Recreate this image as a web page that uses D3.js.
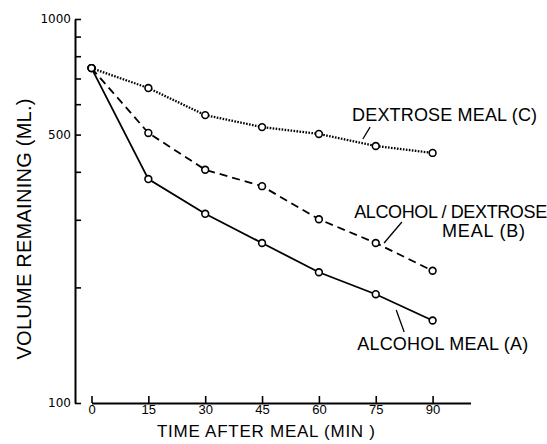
<!DOCTYPE html>
<html>
<head>
<meta charset="utf-8">
<script src="https://cdn.jsdelivr.net/npm/d3@7"></script>
<style>
  body { margin: 0; background: #fff; }
  svg { display: block; }
  text { font-family: "Liberation Sans", Arial, sans-serif; fill: #000; }
</style>
</head>
<body>
<script>
// minutes after the meal
const minutes = [0, 15, 30, 45, 60, 75, 90];
// volume remaining (ml)
const alcoholMeal = [745, 383, 311, 261, 219, 192, 164];
const alcoholDextroseMeal = [745, 505, 405, 367, 301, 261, 221];
const dextroseMeal = [745, 661, 562, 523, 502, 467, 448];

const yTicks = [100, 200, 300, 400, 500, 600, 700, 800, 900, 1000];
const yLabels = [100, 500, 1000];

const width = 547;
const height = 444;

const svg = d3
  .select("body")
  .append("svg")
  .attr("width", width)
  .attr("height", height);

const x = d3.scaleLinear().domain([0, 100]).range([91.5, 470.5]);
const y = d3.scaleLog().domain([100, 1000]).range([403, 19]);

//y axis, ticks point inward
const yAxis = svg
  .append("g")
  .attr("transform", "translate(75,0)")
  .call(
    d3
      .axisLeft(y)
      .tickValues(yTicks)
      .tickFormat((d) => (yLabels.includes(d) ? d : ""))
      .tickSizeInner(-6)
      .tickSizeOuter(0)
      .tickPadding(4)
  );
yAxis.select(".domain").attr("stroke-width", 2);
yAxis.selectAll(".tick line").attr("stroke-width", 1.6);
yAxis
  .selectAll(".tick text")
  .style("font-family", "'DejaVu Sans', sans-serif")
  .style("font-size", "12px");

//x axis
const xAxis = svg
  .append("g")
  .attr("transform", "translate(0,403)")
  .call(
    d3
      .axisBottom(x)
      .tickValues(minutes)
      .tickSizeInner(-7)
      .tickSizeOuter(0)
      .tickPadding(2)
  );
xAxis.select(".domain").attr("stroke-width", 2);
xAxis.selectAll(".tick line").attr("stroke-width", 1.6);
xAxis.selectAll(".tick text").style("font-size", "13px");

//axis titles
svg
  .append("text")
  .attr("x", 266)
  .attr("y", 437)
  .attr("text-anchor", "middle")
  .attr("textLength", 218)
  .style("font-size", "17px")
  .text("TIME AFTER MEAL (MIN )");

svg
  .append("text")
  .attr("transform", "translate(31,229) rotate(-90)")
  .attr("text-anchor", "middle")
  .attr("textLength", 261)
  .style("font-size", "20px")
  .text("VOLUME REMAINING (ML.)");

//series
const series = [
  { values: alcoholMeal, dash: null, w: 1.8 },
  { values: alcoholDextroseMeal, dash: "8,5", w: 1.8 },
  { values: dextroseMeal, dash: "1.6,1.4", w: 2.3 },
];

const line = d3
  .line()
  .x((d, i) => x(minutes[i]))
  .y((d) => y(d));

series.forEach((s) => {
  svg
    .append("path")
    .datum(s.values)
    .attr("d", line)
    .attr("fill", "none")
    .attr("stroke", "#000")
    .attr("stroke-width", s.w)
    .attr("stroke-dasharray", s.dash);
});

series.forEach((s) => {
  svg
    .append("g")
    .selectAll("circle")
    .data(s.values)
    .enter()
    .append("circle")
    .attr("cx", (d, i) => x(minutes[i]))
    .attr("cy", (d) => y(d))
    .attr("r", 3.4)
    .attr("fill", "#fff")
    .attr("stroke", "#000")
    .attr("stroke-width", 1.6);
});

//labels with leader lines, placed in data units
const addLabel = (t, v, txt, len) => {
  svg
    .append("text")
    .attr("x", x(t))
    .attr("y", y(v))
    .attr("textLength", len)
    .style("font-size", "18px")
    .text(txt);
};
const addLeader = (t1, v1, t2, v2) => {
  svg
    .append("line")
    .attr("x1", x(t1))
    .attr("y1", y(v1))
    .attr("x2", x(t2))
    .attr("y2", y(v2))
    .attr("stroke", "#000")
    .attr("stroke-width", 1.3);
};

addLabel(68.75, 542, "DEXTROSE MEAL (C)", 185);
addLeader(73.5, 523, 71.6, 487);

addLabel(69.3, 303, "ALCOHOL / DEXTROSE", 193);
addLabel(92.5, 270.5, "MEAL (B)", 83);
addLeader(81.9, 296, 77.2, 261);

addLabel(70.1, 137.4, "ALCOHOL MEAL (A)", 171);
addLeader(80.4, 174.7, 82.5, 153);
</script>
</body>
</html>
